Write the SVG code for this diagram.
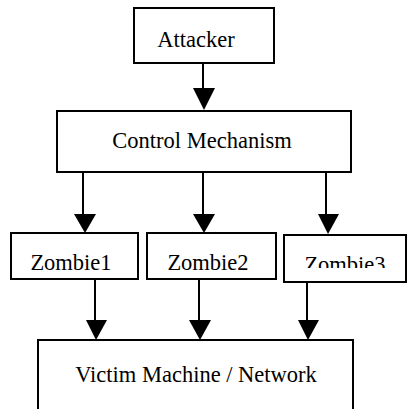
<svg xmlns="http://www.w3.org/2000/svg" width="408" height="409" viewBox="0 0 408 409">
  <style>
    .box { fill: #ffffff; stroke: #000000; stroke-width: 2; }
    .lbl { font-family: 'Liberation Serif', 'DejaVu Serif', serif; font-size: 22.5px; fill: #000000; text-anchor: middle; }
    .wire { stroke: #000000; stroke-width: 2; fill: none; }
    .head { fill: #000000; stroke: none; }
  </style>
  <defs>
    <clipPath id="z3clip">
      <rect x="284" y="236" width="122" height="32"/>
    </clipPath>
  </defs>

  <rect width="408" height="409" fill="#ffffff"/>

  <g id="connectors">
    <!-- attacker to control -->
    <line class="wire" x1="203" y1="63" x2="203" y2="90"/>
    <polygon class="head" points="193,88 215,88 204,110"/>
    <!-- control to zombies -->
    <line class="wire" x1="83" y1="172" x2="83" y2="216"/>
    <polygon class="head" points="74,214 96,214 85,233"/>
    <line class="wire" x1="203" y1="172" x2="203" y2="216"/>
    <polygon class="head" points="193,214 215,214 204,233"/>
    <line class="wire" x1="326" y1="172" x2="326" y2="216"/>
    <polygon class="head" points="318,214 339,214 328,234"/>
    <!-- zombies to victim -->
    <line class="wire" x1="95" y1="279" x2="95" y2="322"/>
    <polygon class="head" points="86,320 107,320 96,340"/>
    <line class="wire" x1="199" y1="279" x2="199" y2="322"/>
    <polygon class="head" points="189,320 211,320 200,340"/>
    <line class="wire" x1="307" y1="282" x2="307" y2="322"/>
    <polygon class="head" points="298,320 319,320 308,340"/>
  </g>

  <g id="attacker">
    <rect class="box" x="134" y="8" width="140" height="55"/>
    <text class="lbl" x="196" y="47">Attacker</text>
  </g>

  <g id="control">
    <rect class="box" x="57" y="111" width="294" height="61"/>
    <text class="lbl" x="202" y="148">Control Mechanism</text>
  </g>

  <g id="zombie1">
    <rect class="box" x="11" y="233" width="127" height="46"/>
    <text class="lbl" x="71" y="270">Zombie1</text>
  </g>

  <g id="zombie2">
    <rect class="box" x="147" y="233" width="129" height="46"/>
    <text class="lbl" x="208" y="270">Zombie2</text>
  </g>

  <g id="zombie3">
    <rect class="box" x="284" y="235" width="122" height="47"/>
    <text class="lbl" x="345" y="272" clip-path="url(#z3clip)">Zombie3</text>
  </g>

  <g id="victim">
    <rect class="box" x="38" y="340" width="315" height="80"/>
    <text class="lbl" x="196" y="382">Victim Machine / Network</text>
  </g>
</svg>
